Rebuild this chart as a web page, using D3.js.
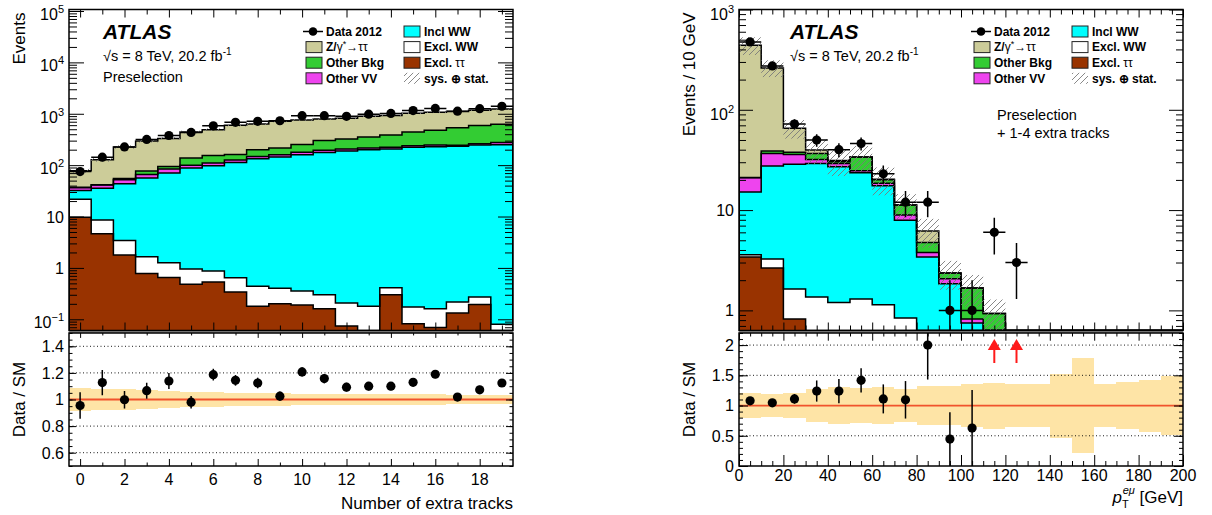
<!DOCTYPE html>
<html><head><meta charset="utf-8">
<script src="https://cdn.jsdelivr.net/npm/d3@7"></script>
<style>
body{margin:0;background:#fff}
text{font-family:"Liberation Sans",Arial,Helvetica,sans-serif;fill:#000}
.tick line{stroke:#000;stroke-width:1}
</style></head>
<body><svg id="c" width="1212" height="515" xmlns="http://www.w3.org/2000/svg"></svg>
<script>
// ---------------- DATA ----------------
// Left: number of extra tracks
const trkCats = [0,1,2,3,4,5,6,7,8,9,10,11,12,13,14,15,16,17,18,19];
const trkExclTauTau = [9.7,4.6,1.78,0.78,0.65,0.48,0.53,0.34,0.18,0.20,0.19,0.16,0.074,0,0.30,0.082,0.069,0.133,0.194,0];
const trkExclWW     = [12.1,4.0,1.62,0.87,0.61,0.47,0.34,0.30,0.26,0.20,0.167,0.14,0.134,0.18,0.11,0.092,0.091,0.085,0.076,0.08];
const trkInclWW     = [10.3,27.1,39.9,54.4,68.7,87,96,112,132.6,143.6,159.6,176.7,187.8,199.8,205.6,221.8,228.8,231.8,246.7,249.9];
const trkOtherVV    = [4.4,5.2,8.6,9.8,14,12,13,13,15,16,19,17,18,16,16,17,18,13,15,25];
const trkOtherBkg   = [0.6,0.6,3.1,11.2,10,38,45,36,52,56,74,109,117,138,165,204,229,288,327,352];
const trkZtautau    = [40.8,85.5,171,219,238,305,336,434,435,498,507,492,494,540,535,580,594,573,581,612];
const trkData       = [75,143,226,316,378,434,583,682,714,732,917,920,893,983,1014,1155,1273,1124,1255,1402];
const trkDataErr    = [8.7,12,15,17.8,19.4,20.8,24.1,26.1,26.7,27.1,30.3,30.3,29.9,31.4,31.8,34,35.7,33.5,35.4,37.4];
const trkRatio      = [0.955,1.127,0.998,1.066,1.139,0.98,1.187,1.144,1.124,1.025,1.207,1.157,1.093,1.1,1.1,1.129,1.19,1.018,1.073,1.124];
const trkRatioErr   = [0.1,0.095,0.066,0.06,0.06,0.047,0.044,0.04,0.04,0.035,0.035,0.035,0.033,0.032,0.03,0.03,0.03,0.03,0.03,0.028];
const trkSysErr     = [0.09,0.082,0.076,0.07,0.062,0.06,0.056,0.05,0.05,0.046,0.042,0.042,0.04,0.038,0.038,0.038,0.038,0.032,0.032,0.032];

// Right: pT(e mu), 10 GeV bins (lower edges)
const ptLow = [0,10,20,30,40,50,60,70,80,90,100,110,120,130,140,150,160,170,180,190];
const ptExclTauTau = [3.4,2.64,0.82,0,0,0,0,0,0,0,0,0,0,0,0,0,0,0,0,0];
const ptExclWW     = [0.18,0.61,0.81,1.36,1.2,1.3,1.14,0.84,0.5,0.3,0.2,0.1,0.05,0.03,0.02,0.02,0.01,0.01,0.01,0.01];
const ptInclWW     = [11.6,24.2,27,27.8,25.9,22.3,16.3,7.1,2.9,1.54,0.55,0.3,0.2,0.15,0.1,0.06,0.05,0.04,0.03,0.02];
const ptOtherVV    = [5.8,9.2,7.2,2.8,2.1,1.1,1.1,0.97,0.38,0.23,0.07,0.05,0.04,0.03,0.02,0.02,0.01,0.01,0.01,0.01];
const ptOtherBkg   = [0.1,2.1,1.8,4.7,1.2,9.1,1.5,2.35,0.98,0.29,0.85,0.48,0.1,0.08,0.05,0.04,0.03,0.02,0.02,0.02];
const ptZtautau    = [419,223,27.7,3,0.8,0,0.3,0,1.44,0,0,0,0,0,0,0,0,0,0,0];
const ptData       = [475,274,72,50,40,46,23,12,12,1,1,6,3,0,0,0,0,0,0,0];
const ptDataErr    = [21.8,16.6,8.5,7.1,6.3,6.8,4.8,3.5,3.5,1,1,2.4,1.7,0,0,0,0,0,0,0];
const ptRatio      = [1.078,1.045,1.11,1.24,1.24,1.417,1.11,1.095,2.0,0.445,0.628,6.5,10,null,null,null,null,null,null,null];
const ptRatioErr   = [0.05,0.04,0.08,0.175,0.2,0.2,0.24,0.31,0.57,0.445,0.628,0,0,0,0,0,0,0,0,0];
const ptSysErr     = [0.2,0.19,0.21,0.28,0.3,0.29,0.31,0.28,0.32,0.32,0.35,0.38,0.35,0.35,0.53,0.79,0.35,0.39,0.43,0.49];

// tick labels
const trkXLabels = [0,2,4,6,8,10,12,14,16,18];
const ptXLabels = [0,20,40,60,80,100,120,140,160,180,200];
const trkRatioLabels = [0.6,0.8,1,1.2,1.4];
const ptRatioLabels = [0,0.5,1,1.5,2];

// legend
const legendEntries = [
  {label:"Data 2012", type:"data"},
  {label:"Z/γ*→ττ", type:"box", color:"#cccc99"},
  {label:"Other Bkg", type:"box", color:"#33cc33"},
  {label:"Other VV", type:"box", color:"#ee44ee"},
  {label:"Incl WW", type:"box", color:"#00ffff"},
  {label:"Excl. WW", type:"box", color:"#ffffff"},
  {label:"Excl. ττ", type:"box", color:"#993300"},
  {label:"sys. ⊕ stat.", type:"hatch"}
];
const stackColors = {exclTT:"#993300", exclWW:"#ffffff", incl:"#00ffff", vv:"#ee44ee", other:"#33cc33", ztt:"#cccc99"};

// ---------------- DRAW ----------------
const svg = d3.select("#c");
const defs = svg.append("defs");
const pat = defs.append("pattern").attr("id","hatch").attr("patternUnits","userSpaceOnUse").attr("width",6).attr("height",6);
pat.append("path").attr("d","M0,6 L6,0 M-1,1 L1,-1 M5,7 L7,5").attr("stroke","#7a7a7a").attr("stroke-width",0.9);

const TOP_T = 9.5, TOP_B = 330.5, R_T = 333, R_B = 466;

function addTicks(g, axisFn, scale, values, size, tx, ty){
  g.append("g").attr("transform",`translate(${tx},${ty})`)
   .call(axisFn(scale).tickValues(values).tickSizeInner(-size).tickSizeOuter(0).tickFormat(""))
   .call(s=>s.select(".domain").remove());
}
function logLabel(g, x, y, v, anchor){
  const e = Math.round(Math.log10(v));
  const t = g.append("text").attr("x",x).attr("y",y).attr("text-anchor",anchor).attr("font-size",16);
  if (e===0) { t.text("1"); return 0; }
  if (e===1) { t.text("10"); return 0; }
  t.append("tspan").text("10");
  t.append("tspan").attr("dy",-7).attr("font-size",11).text(e<0? "−"+(-e) : String(e));
  return 1;
}

function drawPanel(P){
  const g = svg.append("g");
  const x = d3.scaleLinear().domain(P.xDomain).range([P.x0,P.x1]);
  const y = d3.scaleLog().domain(P.yDomain).range([TOP_B,TOP_T]).clamp(true);
  const r = d3.scaleLinear().domain(P.rDomain).range([R_B,R_T]);
  const yv = v => (v==null || v<=P.yDomain[0]) ? TOP_B : y(v);
  const n = P.lo.length;
  const idx = d3.range(n);

  const cidTop = P.id+"top", cidR = P.id+"r";
  defs.append("clipPath").attr("id",cidTop).append("rect").attr("x",P.x0).attr("y",TOP_T).attr("width",P.x1-P.x0).attr("height",TOP_B-TOP_T);
  defs.append("clipPath").attr("id",cidR).append("rect").attr("x",P.x0).attr("y",R_T).attr("width",P.x1-P.x0).attr("height",R_B-R_T);

  const gt = g.append("g").attr("clip-path",`url(#${cidTop})`);
  // stack
  let cum = new Array(n).fill(0);
  const layers = [];
  P.stacks.forEach(s=>{
    const base = cum.slice();
    cum = cum.map((c,i)=>c+s.values[i]);
    layers.push({base, top:cum.slice(), color:s.color});
  });
  const total = cum;
  layers.forEach(L=>{
    gt.append("g").selectAll("rect").data(idx.filter(i=>L.top[i]>L.base[i])).join("rect")
      .attr("x",i=>x(P.lo[i])).attr("width",i=>x(P.hi[i])-x(P.lo[i]))
      .attr("y",i=>yv(L.top[i])).attr("height",i=>Math.max(0,yv(L.base[i])-yv(L.top[i])))
      .attr("fill",L.color).attr("shape-rendering","crispEdges");
  });
  layers.forEach(L=>{
    let d = `M${x(P.lo[0])},${TOP_B+2}`;
    idx.forEach(i=>{ d += `V${yv(L.top[i])}H${x(P.hi[i])}`; });
    d += `V${TOP_B+2}`;
    gt.append("path").attr("d",d).attr("fill","none").attr("stroke","#000").attr("stroke-width",1.5);
  });
  // uncertainty hatch
  gt.append("g").selectAll("rect").data(idx.filter(i=>total[i]>0)).join("rect")
    .attr("x",i=>x(P.lo[i])).attr("width",i=>x(P.hi[i])-x(P.lo[i]))
    .attr("y",i=>yv(total[i]*(1+P.sys[i]))).attr("height",i=>Math.max(0,yv(total[i]*(1-P.sys[i]))-yv(total[i]*(1+P.sys[i]))))
    .attr("fill","url(#hatch)");
  // data
  const dIdx = idx.filter(i=>P.data[i]>0);
  const gd = gt.append("g");
  gd.selectAll("line.v").data(dIdx).join("line")
    .attr("x1",i=>x((P.lo[i]+P.hi[i])/2)).attr("x2",i=>x((P.lo[i]+P.hi[i])/2))
    .attr("y1",i=>yv(P.data[i]+P.dataErr[i])).attr("y2",i=>P.data[i]-P.dataErr[i]>0? yv(P.data[i]-P.dataErr[i]) : TOP_B+2)
    .attr("stroke","#000").attr("stroke-width",1.5);
  gd.selectAll("line.h").data(dIdx).join("line")
    .attr("x1",i=>x(P.lo[i])).attr("x2",i=>x(P.hi[i]))
    .attr("y1",i=>yv(P.data[i])).attr("y2",i=>yv(P.data[i]))
    .attr("stroke","#000").attr("stroke-width",1.5);
  gd.selectAll("circle").data(dIdx).join("circle")
    .attr("cx",i=>x((P.lo[i]+P.hi[i])/2)).attr("cy",i=>yv(P.data[i])).attr("r",4.6).attr("fill","#000");

  // ---- ratio pad ----
  const gr = g.append("g").attr("clip-path",`url(#${cidR})`);
  gr.append("g").selectAll("rect").data(idx).join("rect")
    .attr("x",i=>x(P.lo[i])).attr("width",i=>x(P.hi[i])-x(P.lo[i]))
    .attr("y",i=>r(1+P.sys[i])).attr("height",i=>r(1-P.sys[i])-r(1+P.sys[i]))
    .attr("fill","#fdd77c").attr("fill-opacity",0.68).attr("shape-rendering","crispEdges");
  P.rGrid.forEach(v=>{
    gr.append("line").attr("x1",P.x0).attr("x2",P.x1).attr("y1",r(v)).attr("y2",r(v))
      .attr("stroke","#000").attr("stroke-width",0.9).attr("stroke-dasharray","1,2.5");
  });
  gr.append("line").attr("x1",P.x0).attr("x2",P.x1).attr("y1",r(1)).attr("y2",r(1))
    .attr("stroke","#ee3a16").attr("stroke-width",1.8).attr("stroke-opacity",0.85);
  const rIdx = idx.filter(i=>P.ratio[i]!=null && P.ratio[i]<=P.rDomain[1]);
  gr.append("g").selectAll("line").data(rIdx).join("line")
    .attr("x1",i=>x((P.lo[i]+P.hi[i])/2)).attr("x2",i=>x((P.lo[i]+P.hi[i])/2))
    .attr("y1",i=>r(P.ratio[i]+P.ratioErr[i])).attr("y2",i=>r(P.ratio[i]-P.ratioErr[i]))
    .attr("stroke","#000").attr("stroke-width",1.5);
  gr.append("g").selectAll("circle").data(rIdx).join("circle")
    .attr("cx",i=>x((P.lo[i]+P.hi[i])/2)).attr("cy",i=>r(P.ratio[i])).attr("r",4.6).attr("fill","#000");
  // off-scale arrows
  const aIdx = idx.filter(i=>P.ratio[i]!=null && P.ratio[i]>P.rDomain[1]);
  aIdx.forEach(i=>{
    const cx = x((P.lo[i]+P.hi[i])/2);
    g.append("line").attr("x1",cx).attr("x2",cx).attr("y1",R_T+15).attr("y2",R_T+30).attr("stroke","#ff1a1a").attr("stroke-width",2);
    g.append("path").attr("d",`M${cx-6.5},${R_T+17}L${cx},${R_T+6}L${cx+6.5},${R_T+17}Z`).attr("fill","#ff1a1a");
  });

  // ---- frames ----
  g.append("rect").attr("x",P.x0).attr("y",TOP_B).attr("width",P.x1-P.x0).attr("height",R_T-TOP_B).attr("fill","#9a9a9a");
  g.append("rect").attr("x",P.x0).attr("y",TOP_T).attr("width",P.x1-P.x0).attr("height",TOP_B-TOP_T).attr("fill","none").attr("stroke","#000").attr("stroke-width",1.5);
  g.append("rect").attr("x",P.x0).attr("y",R_T).attr("width",P.x1-P.x0).attr("height",R_B-R_T).attr("fill","none").attr("stroke","#000").attr("stroke-width",1.5);

  // ---- ticks ----
  const ax = g.append("g");
  addTicks(ax, d3.axisBottom, x, P.xMajor, P.tk.xMaj, 0, TOP_B);
  addTicks(ax, d3.axisBottom, x, P.xMinor, P.tk.xMin, 0, TOP_B);
  addTicks(ax, d3.axisTop, x, P.xMajor, P.tk.xMaj, 0, TOP_T);
  addTicks(ax, d3.axisTop, x, P.xMinor, P.tk.xMin, 0, TOP_T);
  addTicks(ax, d3.axisBottom, x, P.xMajor, P.tk.rxMaj, 0, R_B);
  addTicks(ax, d3.axisBottom, x, P.xMinor, P.tk.rxMin, 0, R_B);
  addTicks(ax, d3.axisTop, x, P.xMajor, P.tk.rxMaj*0.7, 0, R_T);
  addTicks(ax, d3.axisTop, x, P.xMinor, P.tk.rxMin*0.7, 0, R_T);
  const decs = [], mins = [];
  for (let e=-3;e<=6;e++){ const v=Math.pow(10,e); if (v>=P.yDomain[0] && v<=P.yDomain[1]) decs.push(v);
    for (let m=2;m<=9;m++){ const w=m*v; if (w>=P.yDomain[0] && w<=P.yDomain[1]) mins.push(w);} }
  addTicks(ax, d3.axisLeft, y, decs, P.tk.yMaj, P.x0, 0);
  addTicks(ax, d3.axisLeft, y, mins, P.tk.yMin, P.x0, 0);
  addTicks(ax, d3.axisRight, y, decs, P.tk.yMaj, P.x1, 0);
  addTicks(ax, d3.axisRight, y, mins, P.tk.yMin, P.x1, 0);
  addTicks(ax, d3.axisLeft, r, P.rMajor, P.tk.ryMaj, P.x0, 0);
  addTicks(ax, d3.axisLeft, r, P.rMinor, P.tk.ryMin, P.x0, 0);
  addTicks(ax, d3.axisRight, r, P.rMajor, P.tk.ryMaj, P.x1, 0);
  addTicks(ax, d3.axisRight, r, P.rMinor, P.tk.ryMin, P.x1, 0);

  // ---- labels ----
  decs.forEach(v=>{
    const isExp = Math.abs(Math.log10(v))>=2 || Math.log10(v)<0;
    logLabel(g, P.x0-5, y(v)+(isExp?P.expOff:6), v, "end");
  });
  P.rLabels.forEach(v=>{
    g.append("text").attr("x",P.x0-5).attr("y",r(v)+5.8).attr("text-anchor","end").attr("font-size",16).text(String(v));
  });
  P.xLabels.forEach(v=>{
    g.append("text").attr("x",x(v)).attr("y",P.xLabY).attr("text-anchor","middle").attr("font-size",16).text(String(v));
  });
  // y titles
  g.append("text").attr("transform",`translate(${P.x0-44},${TOP_T+3}) rotate(-90)`).attr("text-anchor","end").attr("font-size",17).text(P.yTitle);
  g.append("text").attr("transform",`translate(${P.x0-44},${(R_T+R_B)/2}) rotate(-90)`).attr("text-anchor","middle").attr("font-size",17).text("Data / SM");

  // legend
  const lg = g.append("g");
  legendEntries.forEach((e,k)=>{
    const col = Math.floor(k/4), row = k%4;
    const bx = P.legX + col*98, cy = 31.5 + row*15.6;
    if (e.type==="data"){
      lg.append("line").attr("x1",bx-3).attr("x2",bx+17).attr("y1",cy).attr("y2",cy).attr("stroke","#000").attr("stroke-width",1.5);
      lg.append("circle").attr("cx",bx+7).attr("cy",cy).attr("r",4.3).attr("fill","#000");
    } else if (e.type==="box"){
      lg.append("rect").attr("x",bx).attr("y",cy-5.5).attr("width",16).attr("height",11).attr("fill",e.color).attr("stroke","#222").attr("stroke-width",1);
    } else {
      lg.append("rect").attr("x",bx).attr("y",cy-5.5).attr("width",16).attr("height",11).attr("fill","url(#hatch)");
    }
    const t = lg.append("text").attr("x",bx+20).attr("y",cy+4.3).attr("font-size",12).attr("font-weight","bold");
    if (e.label==="Z/γ*→ττ"){
      t.append("tspan").text("Z/");
      t.append("tspan").attr("font-weight","normal").text("γ");
      t.append("tspan").attr("font-weight","normal").attr("font-size",9).attr("dy",-4).text("*");
      t.append("tspan").attr("font-weight","normal").attr("dy",4).text("→ττ");
    } else if (e.label==="Excl. ττ"){
      t.append("tspan").text("Excl. ");
      t.append("tspan").attr("font-weight","normal").text("ττ");
    } else t.text(e.label);
  });

  // ATLAS block
  g.append("text").attr("x",P.atlasX).attr("y",39).attr("font-size",21).attr("font-weight","bold").attr("font-style","italic").text("ATLAS");
  const t2 = g.append("text").attr("x",P.atlasX).attr("y",61).attr("font-size",14.5);
  t2.append("tspan").text("√s = 8 TeV, 20.2 fb");
  t2.append("tspan").attr("dy",-6).attr("font-size",10).text("-1");
  P.notes.forEach(nt=>{
    g.append("text").attr("x",nt.x).attr("y",nt.y).attr("font-size",14.5).text(nt.t);
  });
  return {g,x};
}

// Left panel
const L = drawPanel({
  id:"L", x0:69, x1:513, xDomain:[-0.5,19.5], yDomain:[0.0605,1.07e5], rDomain:[0.5,1.5],
  lo: trkCats.map(c=>c-0.5), hi: trkCats.map(c=>c+0.5),
  stacks:[
    {values:trkExclTauTau,color:stackColors.exclTT},
    {values:trkExclWW,color:stackColors.exclWW},
    {values:trkInclWW,color:stackColors.incl},
    {values:trkOtherVV,color:stackColors.vv},
    {values:trkOtherBkg,color:stackColors.other},
    {values:trkZtautau,color:stackColors.ztt}],
  data:trkData, dataErr:trkDataErr, ratio:trkRatio, ratioErr:trkRatioErr, sys:trkSysErr,
  rGrid:[0.6,0.8,1.2,1.4], rMajor:trkRatioLabels, rMinor:d3.range(0.5,1.51,0.05).map(v=>+v.toFixed(2)),
  rLabels:trkRatioLabels, xLabels:trkXLabels,
  xMajor:trkXLabels, xMinor:[1,3,5,7,9,11,13,15,17,19],
  tk:{xMaj:8,xMin:5,rxMaj:7,rxMin:3.5,yMaj:15,yMin:8,ryMaj:7,ryMin:3.5},
  xLabY:485, expOff:9, yTitle:"Events", legX:306, atlasX:103,
  notes:[{x:103,y:82,t:"Preselection"}]
});
L.g.append("text").attr("x",513).attr("y",509).attr("text-anchor","end").attr("font-size",17).text("Number of extra tracks");

// Right panel
const R = drawPanel({
  id:"R", x0:739, x1:1183, xDomain:[0,200], yDomain:[0.63,1000], rDomain:[0,2.2],
  lo: ptLow, hi: ptLow.map(v=>v+10),
  stacks:[
    {values:ptExclTauTau,color:stackColors.exclTT},
    {values:ptExclWW,color:stackColors.exclWW},
    {values:ptInclWW,color:stackColors.incl},
    {values:ptOtherVV,color:stackColors.vv},
    {values:ptOtherBkg,color:stackColors.other},
    {values:ptZtautau,color:stackColors.ztt}],
  data:ptData, dataErr:ptDataErr, ratio:ptRatio, ratioErr:ptRatioErr, sys:ptSysErr,
  rGrid:[0.5,1.5,2], rMajor:ptRatioLabels, rMinor:d3.range(0,2.21,0.1).map(v=>+v.toFixed(1)),
  rLabels:ptRatioLabels, xLabels:ptXLabels,
  xMajor:ptXLabels, xMinor:d3.range(5,200,5).filter(v=>v%20!==0),
  tk:{xMaj:8,xMin:5,rxMaj:11,rxMin:5,yMaj:14,yMin:7,ryMaj:9,ryMin:4},
  xLabY:481, expOff:10, yTitle:"Events / 10 GeV", legX:974, atlasX:790,
  notes:[{x:997,y:120,t:"Preselection"},{x:997,y:138,t:"+ 1-4 extra tracks"}]
});
const xt = R.g.append("text").attr("x",1183).attr("y",503).attr("text-anchor","end").attr("font-size",17);
xt.append("tspan").attr("font-style","italic").text("p");
xt.append("tspan").attr("font-size",11).attr("dy",5).text("T");
xt.append("tspan").attr("font-size",11).attr("font-style","italic").attr("dx",-6).attr("dy",-14).text("eμ");
xt.append("tspan").attr("dy",9).text(" [GeV]");
</script></body></html>
